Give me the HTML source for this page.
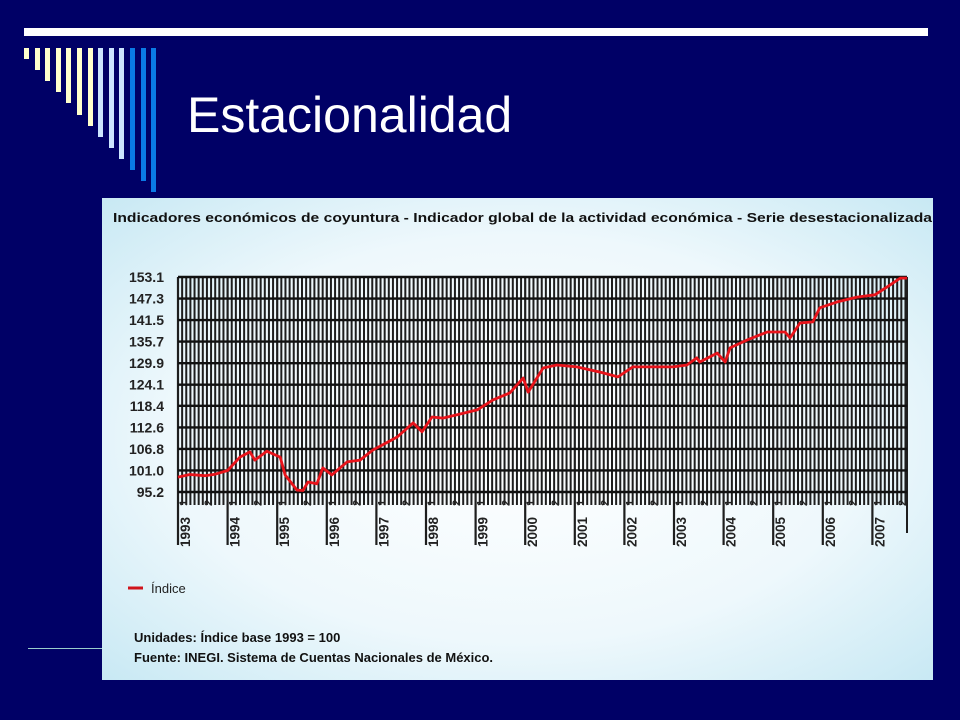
<!DOCTYPE html>
<html><head><meta charset="utf-8">
<style>
html,body{margin:0;padding:0;}
body{width:960px;height:720px;background:#000066;position:relative;overflow:hidden;font-family:"Liberation Sans",sans-serif;}
.bar{position:absolute;top:48px;width:5px;}
</style></head>
<body>
<div style="position:absolute;left:24px;top:28px;width:904px;height:8px;background:#fff;"></div>
<div id="bars"></div>
<div style="position:absolute;left:187px;top:86px;font-size:50px;color:#fff;">Estacionalidad</div>
<div style="position:absolute;left:28px;top:648px;width:74px;height:1px;background:#9cc;"></div>

<svg style="position:absolute;left:102px;top:198px" width="831" height="482" viewBox="102 198 831 482">
<defs>
<radialGradient id="bg" cx="0.5" cy="0.5" r="0.7">
<stop offset="0" stop-color="#ffffff"/><stop offset="0.6" stop-color="#eef8fc"/><stop offset="1" stop-color="#c9e9f4"/>
</radialGradient>
</defs>
<rect x="102" y="198" width="831" height="482" fill="url(#bg)"/>
<text x="113" y="222" font-size="12.5" font-weight="bold" fill="#111" textLength="819" lengthAdjust="spacingAndGlyphs">Indicadores económicos de coyuntura - Indicador global de la actividad económica - Serie desestacionalizada</text>
<g id="grid"></g>
<g id="ylabels"></g>
<g id="xlabels"></g>
<path id="line" fill="none" stroke="#e8141b" stroke-width="2.8" stroke-linejoin="round"/>
<line x1="128" y1="588" x2="143" y2="588" stroke="#d0141b" stroke-width="3"/>
<text x="151" y="593" font-size="13" fill="#222">Índice</text>
<text x="134" y="642" font-size="13" font-weight="bold" fill="#111">Unidades: Índice base 1993 = 100</text>
<text x="134" y="662" font-size="13" font-weight="bold" fill="#111">Fuente: INEGI. Sistema de Cuentas Nacionales de México.</text>
</svg>

<script>
const yTicks=[95.2,101.0,106.8,112.6,118.4,124.1,129.9,135.7,141.5,147.3,153.1];
const years=[1993,1994,1995,1996,1997,1998,1999,2000,2001,2002,2003,2004,2005,2006,2007];
const times=[1993.0,1993.24,1993.54,1993.75,1994.0,1994.25,1994.45,1994.55,1994.79,1995.06,1995.16,1995.4,1995.52,1995.62,1995.8,1995.92,1996.1,1996.41,1996.67,1996.93,1997.13,1997.42,1997.74,1997.92,1998.12,1998.34,1998.69,1999.03,1999.35,1999.69,1999.96,2000.06,2000.36,2000.64,2001.04,2001.51,2001.87,2002.17,2002.58,2002.98,2003.26,2003.46,2003.52,2003.87,2004.03,2004.13,2004.47,2004.88,2005.24,2005.34,2005.54,2005.8,2005.94,2006.29,2006.69,2007.05,2007.35,2007.56,2007.7];
const values=[99.2,99.9,99.6,100.0,101.0,104.6,106.0,103.8,106.2,104.6,99.8,95.7,95.6,97.9,97.4,101.7,99.8,103.3,103.8,106.5,107.9,110.0,113.8,111.4,115.4,115.1,116.2,117.3,120.0,121.9,125.9,122.1,128.6,129.4,128.9,127.5,126.2,128.9,128.9,128.9,129.4,131.3,130.2,132.6,130.2,134.0,136.1,138.3,138.3,136.7,140.7,141.0,144.8,146.4,147.7,148.3,150.9,152.8,152.8];

const NS='http://www.w3.org/2000/svg';
const X0=178,PXY=49.6,Y0=492,Y1=277,XEND=907;
const xs=t=>X0+(t-1993)*PXY;
const ys=v=>Y0-(v-95.2)/(153.1-95.2)*(Y0-Y1);
function mk(tag,attrs,parent){const e=document.createElementNS(NS,tag);for(const k in attrs)e.setAttribute(k,attrs[k]);parent.appendChild(e);return e;}

const barsEl=document.getElementById('bars');
const cols=['#ffffcc','#ffffcc','#ffffcc','#ffffcc','#ffffcc','#ffffcc','#ffffcc','#cce5ff','#cce5ff','#cce5ff','#0a7ae6','#0a7ae6','#0a7ae6'];
cols.forEach((c,i)=>{const d=document.createElement('div');d.className='bar';d.style.left=(24+i*10.6)+'px';d.style.height=(11+i*11.1)+'px';d.style.background=c;


barsEl.appendChild(d);});

const grid=document.getElementById('grid');
const nMonths=Math.round((XEND-X0)/(PXY/12));
for(let m=0;m<=nMonths;m++){
  const x=X0+m*PXY/12;
  const isYear=m%12===0;
  const l=mk('line',{x1:x,y1:Y1,x2:x,y2:isYear?545:505,stroke:'#1e1e1e','stroke-width':isYear?2.2:2},grid);
  
  
}
mk('line',{x1:XEND,y1:Y1,x2:XEND,y2:533,stroke:'#1e1e1e','stroke-width':2},grid);
const yl=document.getElementById('ylabels');
yTicks.forEach(v=>{
  const l=mk('line',{x1:X0,y1:ys(v),x2:XEND,y2:ys(v),stroke:'#111','stroke-width':2.4},grid);
  
  
  const t=mk('text',{x:164,y:ys(v)+5,'font-size':14,'font-weight':'bold','text-anchor':'end',fill:'#222'},yl);
  t.textContent=v.toFixed(1);
  
  
});
const xl=document.getElementById('xlabels');
years.forEach(yr=>{
  const x=xs(yr);
  const t=mk('text',{x:0,y:0,'font-size':13.5,'font-weight':'bold',fill:'#222','text-anchor':'start',transform:`translate(${x+12},547) rotate(-90)`},xl);
  t.textContent=yr;
  
  
  [0,0.5].forEach((h,i)=>{
    const xx=xs(yr+h);
    if(xx>XEND)return;
    const s=mk('text',{x:0,y:0,'font-size':11,'font-weight':'bold',fill:'#222','text-anchor':'start',transform:`translate(${xx+9},506) rotate(-90)`},xl);
    s.textContent=i===0?'1':'2';
    
    
  });
});
document.getElementById('line').setAttribute('d',times.map((t,i)=>(i?'L':'M')+xs(t).toFixed(1)+' '+ys(values[i]).toFixed(1)).join(' '));
</script>
</body></html>
